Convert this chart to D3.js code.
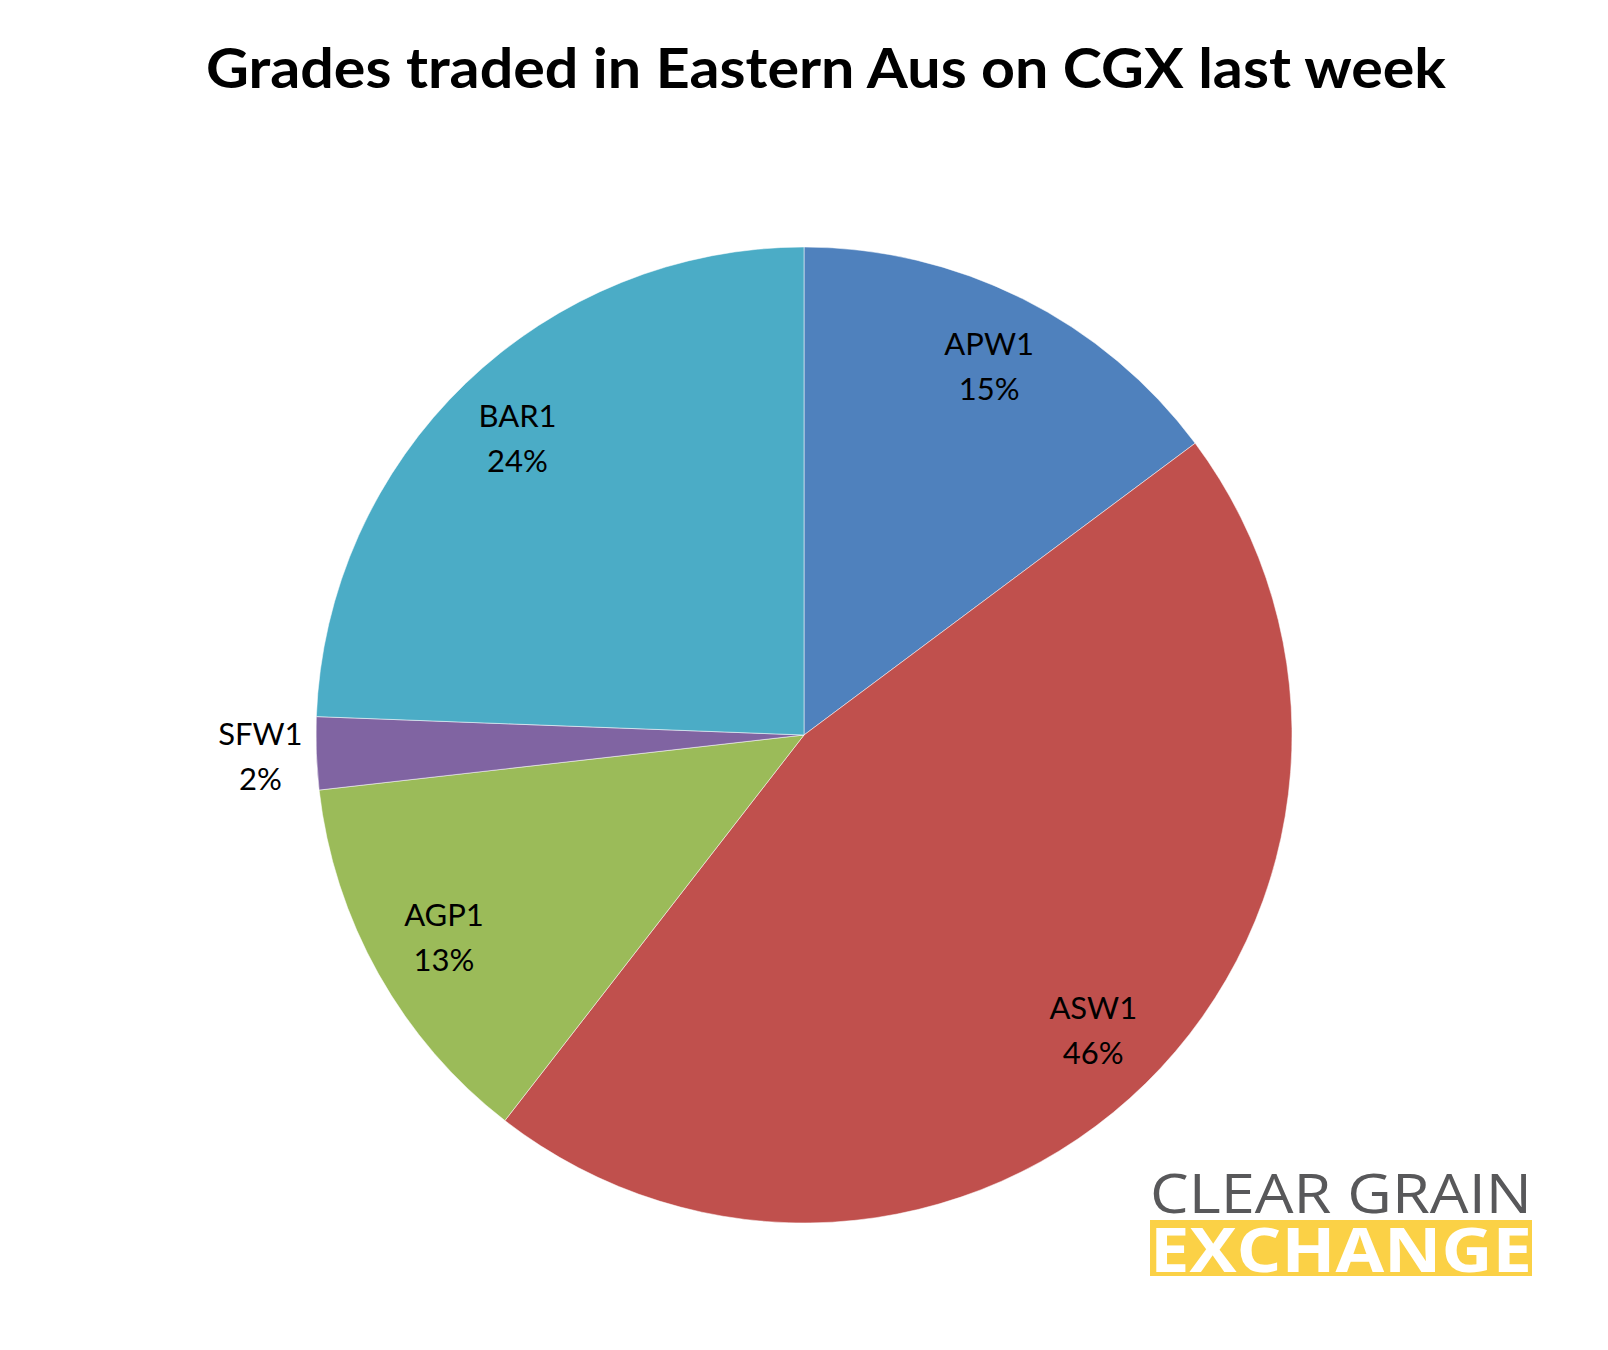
<!DOCTYPE html>
<html><head><meta charset="utf-8">
<script src="https://cdn.jsdelivr.net/npm/d3@7"></script>
<style>html,body{margin:0;padding:0;background:#fff;}svg{display:block;}</style>
</head><body>
<script>
const categories = ["APW1", "ASW1", "AGP1", "SFW1", "BAR1"];
const values = [14.8, 45.7, 12.7, 2.4, 24.4];
const colors = ["#4F81BD", "#C0504D", "#9BBB59", "#8064A2", "#4BACC6"];
const titleText = "Grades traded in Eastern Aus on CGX last week";
const outsideLabels = ["SFW1"];

const W = 1608, H = 1350;
const cx = 804, cy = 735, R = 488;

const svg = d3.select("body").append("svg").attr("width", W).attr("height", H);
svg.append("rect").attr("width", W).attr("height", H).attr("fill", "#fff");

// Title
svg.append("text")
  .attr("x", 826).attr("y", 88)
  .attr("text-anchor", "middle")
  .attr("font-family", "Lato, 'Open Sans', sans-serif")
  .attr("font-weight", "bold")
  .attr("font-size", 56)
  .attr("textLength", 1240)
  .attr("lengthAdjust", "spacingAndGlyphs")
  .attr("fill", "#000")
  .text(titleText);

const data = categories.map((c, i) => ({ cat: c, value: values[i], color: colors[i] }));
const total = d3.sum(values);
const pie = d3.pie().value(d => d.value).sort(null);
const arcs = pie(data);
const arc = d3.arc().innerRadius(0).outerRadius(R);
const labelArc = d3.arc().innerRadius(413).outerRadius(413);
const outArc = d3.arc().innerRadius(544).outerRadius(544);

const g = svg.append("g").attr("transform", `translate(${cx},${cy})`);
g.selectAll("path.slice").data(arcs).enter().append("path")
  .attr("class", "slice")
  .attr("d", arc)
  .attr("fill", d => d.data.color)
  .attr("stroke", "rgba(255,255,255,0.5)")
  .attr("stroke-width", 1);

const lbl = g.selectAll("g.lbl").data(arcs).enter().append("g")
  .attr("class", "lbl")
  .attr("transform", d => {
    const c = outsideLabels.includes(d.data.cat) ? outArc.centroid(d) : labelArc.centroid(d);
    return `translate(${c[0]},${c[1]})`;
  });
lbl.append("text")
  .attr("text-anchor", "middle")
  .attr("y", -11)
  .attr("font-family", "Lato, 'Open Sans', sans-serif")
  .attr("font-size", 31)
  .attr("fill", "#000")
  .text(d => d.data.cat);
lbl.append("text")
  .attr("text-anchor", "middle")
  .attr("y", 34)
  .attr("font-family", "Lato, 'Open Sans', sans-serif")
  .attr("font-size", 31)
  .attr("fill", "#000")
  .text(d => Math.round(d.data.value / total * 100) + "%");

// Logo
const logo = svg.append("g");
logo.append("text")
  .attr("x", 1150).attr("y", 1213)
  .attr("font-family", "'Open Sans', Lato, sans-serif")
  .attr("font-size", 55)
  .attr("textLength", 382)
  .attr("lengthAdjust", "spacingAndGlyphs")
  .attr("fill", "#58585A")
  .text("CLEAR GRAIN");
logo.append("rect")
  .attr("x", 1150).attr("y", 1220).attr("width", 382).attr("height", 56)
  .attr("fill", "#FBD146");
logo.append("text")
  .attr("x", 1150).attr("y", 1272)
  .attr("font-family", "'Open Sans', Lato, sans-serif")
  .attr("font-weight", "bold")
  .attr("font-size", 61)
  .attr("textLength", 382)
  .attr("lengthAdjust", "spacingAndGlyphs")
  .attr("fill", "#fff")
  .text("EXCHANGE");
</script>
</body></html>
